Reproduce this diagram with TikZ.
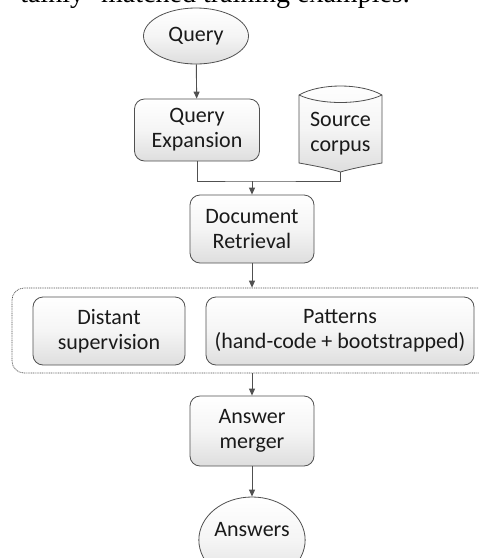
\documentclass[tikz,border=0pt]{standalone}
\usepackage{fontspec}
\setmainfont{Carlito}
\newfontfamily\seriffont{Liberation Serif}
\usetikzlibrary{shapes.geometric,arrows.meta}
\definecolor{edge}{HTML}{505050}
\definecolor{txt}{HTML}{1A1A1A}
\tikzset{
  boxfill/.style={top color=white,bottom color=black!13,middle color=black!4},
  procbox/.style={draw=edge,line width=0.8pt,rounded corners=10pt,boxfill,
    align=center,text=txt,font=\fontsize{22}{25}\selectfont,inner sep=0pt},
  termnode/.style={draw=edge,line width=0.8pt,ellipse,boxfill,
    align=center,text=txt,font=\fontsize{22}{25}\selectfont,inner sep=0pt},
  flow/.style={draw=edge,line width=0.9pt,-{Triangle[length=7pt,width=6pt]}},
  plain/.style={draw=edge,line width=0.9pt},
}
\begin{document}
\begin{tikzpicture}[x=1pt,y=-1pt]
\useasboundingbox (0,0) rectangle (479,558);
\clip (0,0) rectangle (479,558);
% cut-off line of text above the figure
\node[anchor=base east,inner sep=0pt,font=\seriffont\fontsize{28}{30}\selectfont,text=black] (toptext) at (410,2.5) {tainly'' matched training examples.};
% nodes
\node[termnode,minimum width=105pt,minimum height=56pt] (q) at (196,36) {Query};
\node[procbox,minimum width=125pt,minimum height=62pt] (qe) at (197,130) {Query\\Expansion};
\node[inner sep=0pt,minimum width=83pt,minimum height=76pt] (sc) at (340.5,134) {};
\draw[draw=edge,line width=0.8pt,boxfill]
  (299,95) .. controls (320,83) and (361,83) .. (382,95)
  -- (382,163) .. controls (365,166) and (350,169) .. (340.5,172)
  .. controls (331,169) and (316,166) .. (299,163) -- cycle;
\draw[draw=edge,line width=0.8pt] (299,95) .. controls (320,105) and (361,105) .. (382,95);
\node[align=center,text=txt,font=\fontsize{22}{25}\selectfont,inner sep=0pt] (sct) at (340.5,134) {Source\\corpus};
\node[procbox,minimum width=124pt,minimum height=68pt] (dr) at (252,229) {Document\\Retrieval};
\node[draw=edge,line width=0.7pt,dash pattern=on 1pt off 0.8pt,rounded corners=12pt,minimum width=480pt,minimum height=85pt,inner sep=0pt] (grp) at (252,330.5) {};
\node[procbox,minimum width=152pt,minimum height=68pt] (ds) at (109,331) {Distant\\supervision};
\node[procbox,minimum width=268pt,minimum height=68pt] (pt) at (340,331) {Patterns\\(hand-code + bootstrapped)};
\node[procbox,minimum width=124pt,minimum height=70pt] (am) at (252,431) {Answer\\merger};
\node[termnode,minimum width=103pt,minimum height=86pt] (ans) at (252,540) {\raisebox{22pt}{Answers}};
% connectors
\coordinate (j) at (252,181);
\draw[flow] (q) -- (qe);
\draw[plain] (qe.south) |- (j) -| (sc.south);
\draw[flow] (j) -- (dr.north);
\draw[flow] (dr.south) -- (grp.north);
\draw[flow] (grp.south) -- (am.north);
\draw[flow] (am.south) -- (ans.north);
\end{tikzpicture}
\end{document}
